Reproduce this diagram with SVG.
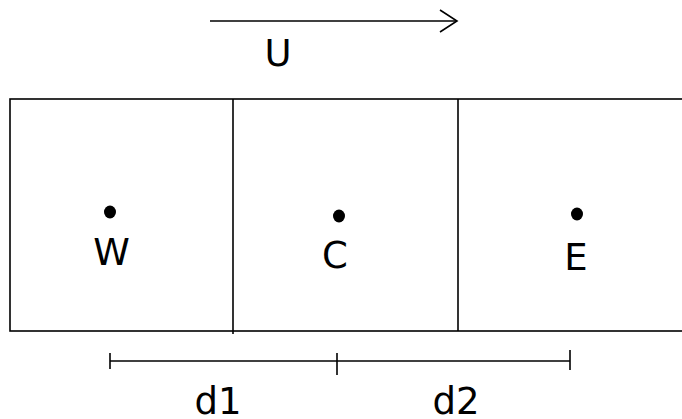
<svg xmlns="http://www.w3.org/2000/svg" width="682" height="419" viewBox="0 0 682 419">
<style>
.ln{stroke:#000;stroke-width:1.6;fill:none}
.t{font-family:"DejaVu Sans",sans-serif;font-size:37px;fill:#000;text-anchor:middle}
</style>
<rect width="682" height="419" fill="#fff"/>
<g id="flow">
<line class="ln" x1="210" y1="21" x2="456" y2="21"/>
<polyline class="ln" points="440,10 457,21 440,32"/>
<text class="t" x="278" y="66">U</text>
</g>
<g id="cells">
<rect class="ln" x="10" y="99" width="690" height="232"/>
<line class="ln" x1="233" y1="99" x2="233" y2="334"/>
<line class="ln" x1="458" y1="99" x2="458" y2="331"/>
</g>
<g id="W">
<ellipse cx="110" cy="212" rx="6" ry="6.5"/>
<text class="t" x="111.5" y="265">W</text>
</g>
<g id="C">
<ellipse cx="339" cy="216" rx="6" ry="6.5"/>
<text class="t" x="335" y="268">C</text>
</g>
<g id="E">
<ellipse cx="577" cy="214" rx="6" ry="6.5"/>
<text class="t" x="576" y="270">E</text>
</g>
<g id="dims">
<line class="ln" x1="110" y1="361" x2="570" y2="361"/>
<line class="ln" x1="110" y1="353" x2="110" y2="369"/>
<line class="ln" x1="337" y1="353" x2="337" y2="375"/>
<line class="ln" x1="570" y1="350" x2="570" y2="370"/>
<text class="t" x="218" y="414">d1</text>
<text class="t" x="456" y="414">d2</text>
</g>
</svg>
